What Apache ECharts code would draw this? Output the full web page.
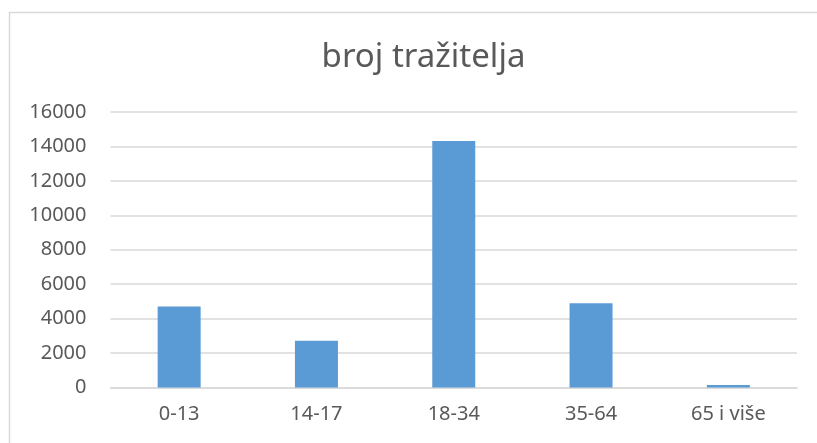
<!DOCTYPE html>
<html>
<head>
<meta charset="utf-8">
<script src="https://cdn.jsdelivr.net/npm/echarts@6/dist/echarts.min.js"></script>
<style>
html,body{margin:0;padding:0;background:#fff;}
#c{width:817px;height:443px;}
</style>
</head>
<body>
<div id="c"></div>
<script>
var titleText = 'broj tražitelja';
var categories = ['0-13', '14-17', '18-34', '35-64', '65 i više'];
var values = [4700, 2720, 14320, 4900, 140];
var yTicks = {min: 0, max: 16000, interval: 2000};

var chart = echarts.init(document.getElementById('c'), null, {renderer: 'canvas'});
chart.setOption({
  animation: false,
  backgroundColor: '#ffffff',
  graphic: [{
    type: 'rect',
    shape: {x: 9.5, y: 12.5, width: 900, height: 500},
    style: {fill: 'none', stroke: '#d9d9d9', lineWidth: 1.5},
    z: -1
  }],
  title: {
    text: titleText,
    left: 418.5,
    textAlign: 'center',
    top: 36,
    textStyle: {fontFamily: 'Noto Sans', fontSize: 33, fontWeight: 'normal', color: '#595959'}
  },
  grid: {left: 110.5, right: 20, top: 112, bottom: 55.5, containLabel: false},
  xAxis: {
    type: 'category',
    data: categories,
    axisLine: {show: true, lineStyle: {color: '#d9d9d9', width: 1.5}},
    axisTick: {show: false},
    axisLabel: {fontFamily: 'Noto Sans', fontSize: 20, color: '#595959', margin: 17}
  },
  yAxis: {
    type: 'value',
    min: yTicks.min, max: yTicks.max, interval: yTicks.interval,
    axisLine: {show: false},
    axisTick: {show: false},
    splitLine: {lineStyle: {color: '#d9d9d9', width: 1.5}},
    axisLabel: {fontFamily: 'Noto Sans', fontSize: 20, color: '#595959', margin: 24,
      formatter: function (v) { return String(v); }}
  },
  series: [{
    type: 'bar',
    data: values,
    barWidth: 43,
    itemStyle: {color: '#5b9bd5'}
  }]
});
</script>
</body>
</html>
